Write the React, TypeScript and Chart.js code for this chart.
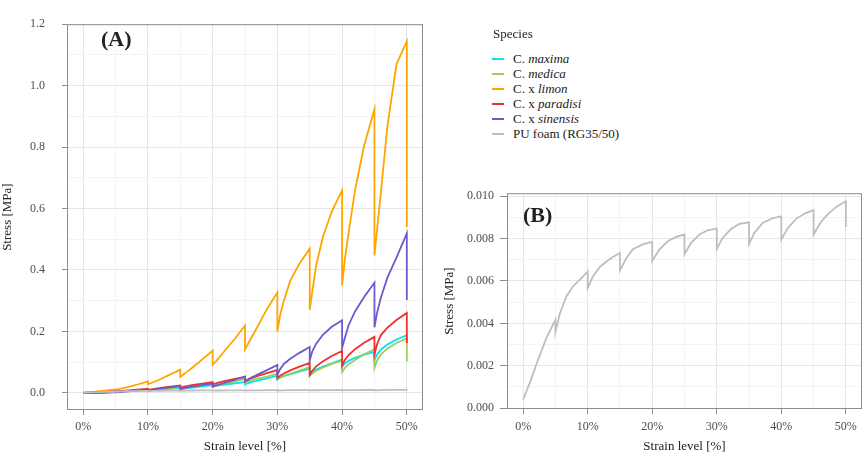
import { useEffect, useRef } from "react"
import { Chart, registerables } from "chart.js"

Chart.register(...registerables)
Chart.defaults.font.family = "'Liberation Serif', serif"

// strain steps of the cyclic test (a peak and a relaxed value at every 5 %)
const strainA = [
  0, 0.4, 1, 2, 3.4, 5,
  5, 5.4, 6, 7, 8.4, 10,
  10, 10.4, 11, 12, 13.4, 15,
  15, 15.4, 16, 17, 18.4, 20,
  20, 20.4, 21, 22, 23.4, 25,
  25, 25.4, 26, 27, 28.4, 30,
  30, 30.4, 31, 32, 33.4, 35,
  35, 35.4, 36, 37, 38.4, 40,
  40, 40.4, 41, 42, 43.4, 45,
  45, 45.4, 46, 47, 48.4, 50,
  50,
]

const stressMaxima = [
  0, 0.0002, 0.0007, 0.0015, 0.0025, 0.004,
  0.003, 0.004, 0.005, 0.006, 0.008, 0.009,
  0.007, 0.008, 0.009, 0.011, 0.013, 0.015,
  0.012, 0.013, 0.015, 0.017, 0.021, 0.025,
  0.02, 0.022, 0.024, 0.027, 0.031, 0.035,
  0.027, 0.031, 0.035, 0.04, 0.047, 0.056,
  0.043, 0.049, 0.054, 0.061, 0.069, 0.079,
  0.06, 0.069, 0.076, 0.085, 0.096, 0.108,
  0.084, 0.095, 0.104, 0.114, 0.124, 0.133,
  0.105, 0.125, 0.141, 0.157, 0.173, 0.188,
  0.162,
]

const stressMedica = [
  0, 0.0002, 0.0007, 0.0015, 0.0025, 0.004,
  0.003, 0.004, 0.005, 0.006, 0.008, 0.01,
  0.008, 0.009, 0.01, 0.012, 0.015, 0.018,
  0.014, 0.015, 0.017, 0.02, 0.025, 0.03,
  0.022, 0.024, 0.027, 0.031, 0.037, 0.045,
  0.033, 0.037, 0.041, 0.046, 0.053, 0.062,
  0.045, 0.05, 0.055, 0.062, 0.072, 0.083,
  0.056, 0.063, 0.072, 0.082, 0.094, 0.105,
  0.068, 0.08, 0.093, 0.107, 0.125, 0.141,
  0.081, 0.105, 0.125, 0.144, 0.162, 0.177,
  0.102,
]

const stressLimon = [
  0, 0.0005, 0.0015, 0.004, 0.007, 0.011,
  0.009, 0.011, 0.014, 0.019, 0.027, 0.037,
  0.028, 0.031, 0.036, 0.045, 0.059, 0.075,
  0.052, 0.058, 0.068, 0.084, 0.109, 0.137,
  0.091, 0.1, 0.114, 0.14, 0.175, 0.219,
  0.141, 0.157, 0.18, 0.218, 0.273, 0.327,
  0.2, 0.25, 0.3, 0.365, 0.42, 0.469,
  0.27, 0.33, 0.415, 0.505, 0.59, 0.659,
  0.35, 0.43, 0.52, 0.66, 0.804, 0.923,
  0.447, 0.53, 0.655, 0.867, 1.07, 1.144,
  0.54,
]

const stressParadisi = [
  0, 0.0003, 0.001, 0.002, 0.003, 0.005,
  0.004, 0.005, 0.006, 0.008, 0.01, 0.013,
  0.01, 0.011, 0.013, 0.016, 0.02, 0.024,
  0.017, 0.019, 0.022, 0.026, 0.03, 0.035,
  0.027, 0.03, 0.034, 0.039, 0.045, 0.051,
  0.037, 0.042, 0.048, 0.055, 0.064, 0.074,
  0.048, 0.055, 0.063, 0.073, 0.085, 0.097,
  0.058, 0.072, 0.086, 0.102, 0.12, 0.136,
  0.089, 0.106, 0.123, 0.142, 0.163, 0.182,
  0.125, 0.158, 0.188, 0.212, 0.237, 0.26,
  0.162,
]

const stressSinensis = [
  0, 0, -0.001, -0.001, 0, 0.002,
  0.001, 0.002, 0.003, 0.005, 0.007, 0.01,
  0.008, 0.009, 0.011, 0.014, 0.018, 0.022,
  0.012, 0.014, 0.017, 0.021, 0.025, 0.03,
  0.02, 0.023, 0.027, 0.033, 0.042, 0.053,
  0.037, 0.043, 0.05, 0.06, 0.074, 0.091,
  0.058, 0.076, 0.094, 0.111, 0.13, 0.149,
  0.105, 0.135, 0.16, 0.188, 0.215, 0.236,
  0.146, 0.177, 0.22, 0.265, 0.312, 0.358,
  0.213, 0.26, 0.31, 0.375, 0.44, 0.519,
  0.302,
]

// PU foam reference (panel B, also drawn in A)
const strainFoam = [
  0, 1, 2.3, 3.6, 5,
  5, 5.7, 6.7, 7.7, 8.8, 10,
  10, 10.8, 11.9, 12.9, 13.9, 15,
  15, 16, 17, 18.6, 20,
  20, 21.1, 22.4, 23.7, 25,
  25, 26, 27.3, 28.6, 30,
  30, 30.9, 32.2, 33.5, 35,
  35, 35.8, 37.1, 38.7, 40,
  40, 41, 42.3, 43.6, 45,
  45, 46.1, 47.4, 48.7, 50,
  50,
]

const stressFoam = [
  0.00041, 0.00117, 0.00227, 0.0033, 0.00416,
  0.0036, 0.00448, 0.00527, 0.00574, 0.00606, 0.00645,
  0.00566, 0.00621, 0.00666, 0.00692, 0.00713, 0.00732,
  0.0065, 0.00708, 0.0075, 0.00774, 0.00784,
  0.00694, 0.00748, 0.00787, 0.00808, 0.00819,
  0.00726, 0.00779, 0.00819, 0.00839, 0.00847,
  0.00751, 0.00803, 0.00845, 0.00869, 0.00877,
  0.00774, 0.00826, 0.00874, 0.00897, 0.00905,
  0.00795, 0.0085, 0.00893, 0.00918, 0.00934,
  0.00819, 0.00877, 0.00921, 0.00953, 0.00976,
  0.00855,
]

const legendPrefix = ["C. ", "C. ", "C. x ", "C. x ", "C. x ", "PU foam (RG35/50)"]
const legendItalic = ["maxima", "medica", "limon", "paradisi", "sinensis", ""]
const seriesColors = ["#00e5ee", "#9acd5e", "#ffa500", "#ee3030", "#6a5acd", "#bebebe"]

const strainMajor = [0, 10, 20, 30, 40, 50]
const strainMinor = [5, 15, 25, 35, 45]
const stressMajorA = [0, 0.2, 0.4, 0.6, 0.8, 1.0, 1.2]
const stressMinorA = [0.1, 0.3, 0.5, 0.7, 0.9, 1.1]
const stressMajorB = [0, 0.002, 0.004, 0.006, 0.008, 0.01]
const stressMinorB = [0.001, 0.003, 0.005, 0.007, 0.009]

const frameColor = "#8c8c8c"
const tickText = "#4d4d4d"

const toPoints = (xs: number[], ys: number[]) => xs.map((x, i) => ({ x, y: ys[i] }))

const framePlugin = {
  id: "frame",
  afterDatasetsDraw(chart: any) {
    const { ctx, chartArea: a } = chart
    ctx.save()
    ctx.strokeStyle = frameColor
    ctx.lineWidth = 1
    ctx.strokeRect(a.left + 0.5, a.top + 0.5, a.right - a.left - 1, a.bottom - a.top - 1)
    ctx.restore()
  },
}

function axis(major: number[], minor: number[], opts: any) {
  return {
    type: "linear",
    min: opts.min,
    max: opts.max,
    position: opts.position,
    afterBuildTicks: (s: any) => {
      s.ticks = [...major, ...minor].sort((a, b) => a - b).map((value) => ({ value }))
    },
    afterFit: (s: any) => {
      if (opts.position === "left") s.width = opts.size
      else s.height = opts.size
    },
    ticks: {
      autoSkip: false,
      maxRotation: 0,
      padding: opts.pad,
      color: tickText,
      font: { size: 12 },
      callback: (v: number) => (major.includes(v) ? opts.fmt(v) : ""),
    },
    grid: {
      color: (c: any) => (major.includes(c.tick?.value) ? "#e6e6e6" : "#f3f3f3"),
      tickColor: (c: any) => (major.includes(c.tick?.value) ? frameColor : "rgba(0,0,0,0)"),
      tickLength: opts.tickLength,
      lineWidth: 1,
    },
    border: { display: false },
    title: {
      display: true,
      text: opts.title,
      color: "#222",
      font: { size: 13 },
      padding: { top: opts.titlePad, bottom: opts.titlePad },
    },
  }
}

const pct = (v: number) => v + "%"

export default function App() {
  const refA = useRef<HTMLCanvasElement>(null)
  const refB = useRef<HTMLCanvasElement>(null)

  useEffect(() => {
    if (!refA.current || !refB.current) return

    const speciesSeries = [stressMaxima, stressMedica, stressLimon, stressParadisi, stressSinensis]
    const datasetsA: any[] = speciesSeries.map((ys, i) => ({
      label: legendPrefix[i] + legendItalic[i],
      data: toPoints(strainA, ys),
      borderColor: seriesColors[i],
      borderWidth: 1.8,
      pointRadius: 0,
      tension: 0,
      order: 6 - i,
    }))
    datasetsA.push({
      label: legendPrefix[5],
      data: toPoints(strainFoam, stressFoam),
      borderColor: seriesColors[5],
      borderWidth: 1.8,
      pointRadius: 0,
      tension: 0,
      order: 0,
    })

    const chartA = new Chart(refA.current, {
      type: "line",
      data: { datasets: datasetsA },
      options: {
        responsive: false,
        animation: false,
        layout: { padding: { top: 6, right: 17, left: 0, bottom: 0 } },
        plugins: { legend: { display: false }, tooltip: { enabled: false } },
        scales: {
          x: axis(strainMajor, strainMinor, {
            min: -2.5, max: 52.5, position: "bottom", size: 44, pad: 5, tickLength: 5,
            fmt: pct, title: "Strain level [%]", titlePad: 0,
          }),
          y: axis(stressMajorA, stressMinorA, {
            min: -0.056, max: 1.2, position: "left", size: 67, pad: 17, tickLength: 5,
            fmt: (v: number) => v.toFixed(1), title: "Stress [MPa]", titlePad: 0,
          }),
        } as any,
      },
      plugins: [framePlugin],
    })

    const chartB = new Chart(refB.current, {
      type: "line",
      data: {
        datasets: [
          {
            label: legendPrefix[5],
            data: toPoints(strainFoam, stressFoam),
            borderColor: seriesColors[5],
            borderWidth: 1.8,
            pointRadius: 0,
            tension: 0,
          },
        ],
      },
      options: {
        responsive: false,
        animation: false,
        layout: { padding: { top: 13, right: 3, left: 0, bottom: 0 } },
        plugins: { legend: { display: false }, tooltip: { enabled: false } },
        scales: {
          x: axis(strainMajor, strainMinor, {
            min: -2.5, max: 52.5, position: "bottom", size: 45, pad: 6, tickLength: 5,
            fmt: pct, title: "Strain level [%]", titlePad: 0,
          }),
          y: axis(stressMajorB, stressMinorB, {
            min: -0.00004, max: 0.01014, position: "left", size: 67, pad: 6, tickLength: 7,
            fmt: (v: number) => v.toFixed(3), title: "Stress [MPa]", titlePad: 2,
          }),
        } as any,
      },
      plugins: [framePlugin],
    })

    return () => {
      chartA.destroy()
      chartB.destroy()
    }
  }, [])

  const serif = "'Liberation Serif', serif"

  return (
    <div
      style={{
        position: "absolute",
        left: 0,
        top: 0,
        width: 865,
        height: 454,
        background: "#fff",
        fontFamily: serif,
        color: "#222",
      }}
    >
      <canvas ref={refA} width={440} height={454} style={{ position: "absolute", left: 0, top: 0 }} />
      <canvas ref={refB} width={425} height={274} style={{ position: "absolute", left: 440, top: 180 }} />

      <div style={{ position: "absolute", left: 101, top: 28, fontSize: 22, fontWeight: "bold", lineHeight: 1 }}>
        (A)
      </div>
      <div style={{ position: "absolute", left: 523, top: 204, fontSize: 22, fontWeight: "bold", lineHeight: 1 }}>
        (B)
      </div>

      <div style={{ position: "absolute", left: 493, top: 26, fontSize: 13, lineHeight: "15px" }}>Species</div>
      {legendPrefix.map((p, i) => (
        <div
          key={i}
          style={{
            position: "absolute",
            left: 492,
            top: 51 + i * 15,
            height: 15,
            display: "flex",
            alignItems: "center",
            fontSize: 13,
            lineHeight: "15px",
            whiteSpace: "nowrap",
          }}
        >
          <span style={{ display: "inline-block", width: 12, height: 2, background: seriesColors[i], marginRight: 9 }} />
          <span>
            {p}
            {legendItalic[i] && <i>{legendItalic[i]}</i>}
          </span>
        </div>
      ))}
    </div>
  )
}
